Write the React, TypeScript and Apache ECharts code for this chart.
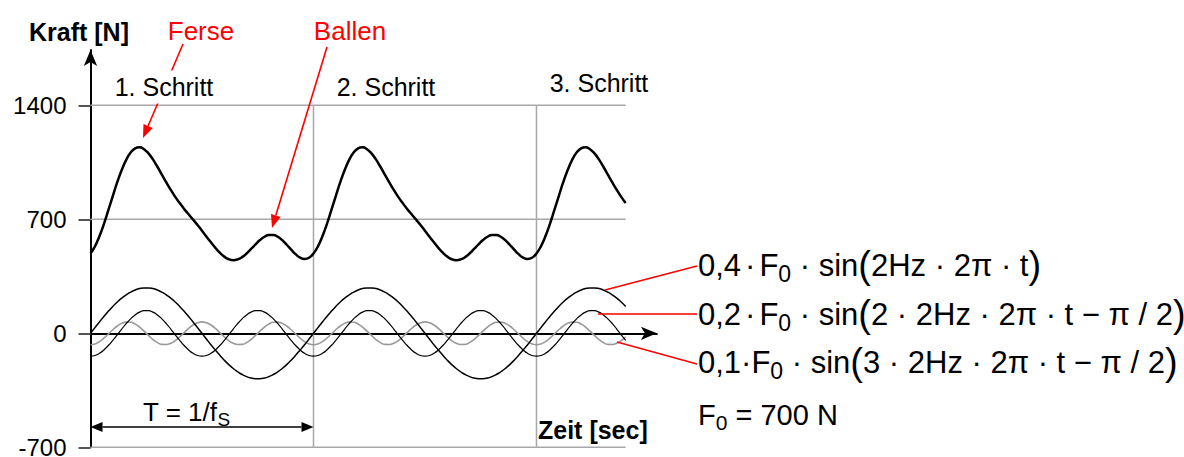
import React, { useEffect, useRef } from "react";
import * as echarts from "echarts";

// ---- data ----
const time = [
  0, 0.01, 0.02, 0.03, 0.04, 0.05, 0.06, 0.07, 0.08, 0.09, 0.1, 0.11, 0.12, 0.13, 0.14, 0.15, 0.16, 0.17, 0.18, 0.19,
  0.2, 0.21, 0.22, 0.23, 0.24, 0.25, 0.26, 0.27, 0.28, 0.29, 0.3, 0.31, 0.32, 0.33, 0.34, 0.35, 0.36, 0.37, 0.38, 0.39,
  0.4, 0.41, 0.42, 0.43, 0.44, 0.45, 0.46, 0.47, 0.48, 0.49, 0.5, 0.51, 0.52, 0.53, 0.54, 0.55, 0.56, 0.57, 0.58, 0.59,
  0.6, 0.61, 0.62, 0.63, 0.64, 0.65, 0.66, 0.67, 0.68, 0.69, 0.7, 0.71, 0.72, 0.73, 0.74, 0.75, 0.76, 0.77, 0.78, 0.79,
  0.8, 0.81, 0.82, 0.83, 0.84, 0.85, 0.86, 0.87, 0.88, 0.89, 0.9, 0.91, 0.92, 0.93, 0.94, 0.95, 0.96, 0.97, 0.98, 0.99,
  1.0, 1.01, 1.02, 1.03, 1.04, 1.05, 1.06, 1.07, 1.08, 1.09, 1.1, 1.11, 1.12, 1.13, 1.14, 1.15, 1.16, 1.17, 1.18, 1.19,
  1.2,
];
const totalForce = [
  490, 534, 596, 671, 756, 843, 928, 1003, 1065, 1110, 1136, 1143, 1131, 1105, 1068, 1023, 975, 927, 881, 838,
  800, 764, 731, 698, 665, 630, 594, 559, 525, 495, 471, 455, 449, 454, 468, 490, 518, 546, 573, 593,
  604, 604, 593, 572, 544, 514, 486, 465, 457, 464,
  490, 534, 596, 671, 756, 843, 928, 1003, 1065, 1110, 1136, 1143, 1131, 1105, 1068, 1023, 975, 927, 881, 838,
  800, 764, 731, 698, 665, 630, 594, 559, 525, 495, 471, 455, 449, 454, 468, 490, 518, 546, 573, 593,
  604, 604, 593, 572, 544, 514, 486, 465, 457, 464,
  490, 534, 596, 671, 756, 843, 928, 1003, 1065, 1110, 1136, 1143, 1131, 1105, 1068, 1023, 975, 927, 881, 838,
  800,
];
const harmonic1 = [
  0, 35, 70, 103, 135, 165, 192, 216, 236, 253, 266, 275, 279, 279, 275, 266, 253, 236, 216, 192,
  165, 135, 103, 70, 35, 0, -35, -70, -103, -135, -165, -192, -216, -236, -253, -266, -275, -279, -279, -275,
  -266, -253, -236, -216, -192, -165, -135, -103, -70, -35,
  0, 35, 70, 103, 135, 165, 192, 216, 236, 253, 266, 275, 279, 279, 275, 266, 253, 236, 216, 192,
  165, 135, 103, 70, 35, 0, -35, -70, -103, -135, -165, -192, -216, -236, -253, -266, -275, -279, -279, -275,
  -266, -253, -236, -216, -192, -165, -135, -103, -70, -35,
  0, 35, 70, 103, 135, 165, 192, 216, 236, 253, 266, 275, 279, 279, 275, 266, 253, 236, 216, 192,
  165,
];
const harmonic2 = [
  -140, -136, -123, -102, -75, -43, -9, 26, 60, 89, 113, 130, 139, 139, 130, 113, 89, 60, 26, -9,
  -43, -75, -102, -123, -136, -140, -136, -123, -102, -75, -43, -9, 26, 60, 89, 113, 130, 139, 139, 130,
  113, 89, 60, 26, -9, -43, -75, -102, -123, -136,
  -140, -136, -123, -102, -75, -43, -9, 26, 60, 89, 113, 130, 139, 139, 130, 113, 89, 60, 26, -9,
  -43, -75, -102, -123, -136, -140, -136, -123, -102, -75, -43, -9, 26, 60, 89, 113, 130, 139, 139, 130,
  113, 89, 60, 26, -9, -43, -75, -102, -123, -136,
  -140, -136, -123, -102, -75, -43, -9, 26, 60, 89, 113, 130, 139, 139, 130, 113, 89, 60, 26, -9,
  -43,
];
const harmonic3 = [
  -70, -65, -51, -30, -4, 22, 45, 61, 69, 68, 57, 38, 13, -13, -38, -57, -68, -69, -61, -45,
  -22, 4, 30, 51, 65, 70, 65, 51, 30, 4, -22, -45, -61, -69, -68, -57, -38, -13, 13, 38,
  57, 68, 69, 61, 45, 22, -4, -30, -51, -65,
  -70, -65, -51, -30, -4, 22, 45, 61, 69, 68, 57, 38, 13, -13, -38, -57, -68, -69, -61, -45,
  -22, 4, 30, 51, 65, 70, 65, 51, 30, 4, -22, -45, -61, -69, -68, -57, -38, -13, 13, 38,
  57, 68, 69, 61, 45, 22, -4, -30, -51, -65,
  -70, -65, -51, -30, -4, 22, 45, 61, 69, 68, 57, 38, 13, -13, -38, -57, -68, -69, -61, -45,
  -22,
];
const xTickValues = [0, 0.5, 1.0];
const xTickLabels = ["0,0", "0,5", "1,0"];
const yTickValues = [-700, 0, 700, 1400];
const yTickLabels = ["-700", "0", "700", "1400"];
const hGridValues = [1400, 700, -700];
const vGridValues = [0.5, 1.0];
const stepLabels = ["1. Schritt", "2. Schritt", "3. Schritt"];
const periodStart = 0;
const periodEnd = 0.5;

const FONT = '"Liberation Sans", Arial, Helvetica, sans-serif';
const RED = "#ff0000";

function arrowHead(x1: number, y1: number, x2: number, y2: number, color: string, headLen: number, headHalf: number) {
  const dx = x2 - x1;
  const dy = y2 - y1;
  const len = Math.sqrt(dx * dx + dy * dy);
  const ux = dx / len;
  const uy = dy / len;
  const bx = x2 - ux * headLen;
  const by = y2 - uy * headLen;
  const px = -uy * headHalf;
  const py = ux * headHalf;
  return {
    base: [bx, by],
    el: {
      type: "polygon",
      z: 100,
      shape: { points: [[x2, y2], [bx + px, by + py], [bx - px, by - py]] },
      style: { fill: color },
    },
  };
}

function arrow(x1: number, y1: number, x2: number, y2: number, color: string, headLen = 13, headHalf = 5) {
  const h = arrowHead(x1, y1, x2, y2, color, headLen, headHalf);
  return [
    { type: "line", z: 100, shape: { x1, y1, x2: h.base[0], y2: h.base[1] }, style: { stroke: color, lineWidth: 1.6 } },
    h.el,
  ];
}

function doubleArrow(x1: number, y1: number, x2: number, y2: number, color: string, headLen = 12, headHalf = 5) {
  const a = arrowHead(x2, y2, x1, y1, color, headLen, headHalf);
  const b = arrowHead(x1, y1, x2, y2, color, headLen, headHalf);
  return [
    {
      type: "line",
      z: 100,
      shape: { x1: a.base[0], y1: a.base[1], x2: b.base[0], y2: b.base[1] },
      style: { stroke: color, lineWidth: 1.6 },
    },
    a.el,
    b.el,
  ];
}

function text(x: number, y: number, t: string, opts: any = {}) {
  return {
    type: "text",
    x,
    y,
    z: 101,
    style: {
      text: t,
      fontFamily: FONT,
      fontSize: 25,
      fill: "#000",
      align: "left",
      verticalAlign: "middle",
      ...opts,
    },
  };
}

const formulaRich = {
  n: { fontSize: 31, fontFamily: FONT, fill: "#000" },
  d: { fontSize: 31, fontFamily: FONT, fill: "#000", padding: [0, 4, 0, 4] },
  s: { fontSize: 23, fontFamily: FONT, fill: "#000", padding: [18, 0, 0, 0] },
  p: { fontSize: 38, fontFamily: FONT, fill: "#000" },
};

export default function App() {
  const ref = useRef<HTMLDivElement>(null);
  useEffect(() => {
    if (!ref.current) return;
    const chart = echarts.init(ref.current, null, { renderer: "svg" });
    const xEnd = time[time.length - 1];

    const lineSeries = (name: string, values: number[], color: string, width: number, z: number) => ({
      name,
      type: "line",
      data: time.map((t, i) => [t, values[i]]),
      smooth: true,
      showSymbol: false,
      symbol: "none",
      z,
      lineStyle: { color, width },
      silent: true,
    });

    chart.setOption({
      animation: false,
      backgroundColor: "#fff",
      grid: { left: 90.5, top: 50, width: 566.4, height: 397.3, containLabel: false, outerBoundsMode: "none" },
      xAxis: {
        type: "value",
        min: 0,
        max: 1.27,
        interval: 0.5,
        axisLine: {
          onZero: true,
          lineStyle: { color: "#000", width: 2 },
          symbol: ["none", "arrow"],
          symbolSize: [10, 16],
        },
        axisTick: { show: false },
        splitLine: { show: false },
        axisLabel: {
          customValues: xTickValues,
          formatter: (v: number) => {
            const i = xTickValues.findIndex((x) => Math.abs(x - v) < 1e-6);
            return i >= 0 ? xTickLabels[i] : "";
          },
          fontFamily: FONT,
          fontWeight: "bold",
          fontSize: 24,
          color: "#000",
          margin: 25,
        },
      },
      yAxis: {
        type: "value",
        min: -700,
        max: 1740,
        interval: 700,
        axisLine: {
          show: true,
          lineStyle: { color: "#000", width: 2 },
          symbol: ["none", "arrow"],
          symbolSize: [10, 16],
        },
        axisTick: { show: true, customValues: yTickValues, length: 12, lineStyle: { color: "#555", width: 2 } },
        splitLine: { show: false },
        axisLabel: {
          customValues: yTickValues,
          formatter: (v: number) => {
            const i = yTickValues.findIndex((x) => Math.abs(x - v) < 1e-6);
            return i >= 0 ? yTickLabels[i] : "";
          },
          fontFamily: FONT,
          fontSize: 24,
          color: "#000",
          margin: 24,
        },
      },
      series: [
        lineSeries("0,1·F0", harmonic3, "#999999", 1.6, 4),
        lineSeries("0,2·F0", harmonic2, "#000", 1.2, 5),
        lineSeries("0,4·F0", harmonic1, "#000", 1.5, 6),
        lineSeries("Kraft", totalForce, "#000", 2.5, 7),
      ],
    });

    // grid lines and period arrow placed through the axes' scales
    const px = (x: number, y: number) => chart.convertToPixel({ gridIndex: 0 }, [x, y]) as number[];
    const yMin = yTickValues[0];
    const yMax = yTickValues[yTickValues.length - 1];
    const gridLines: any[] = [
      ...hGridValues.map((v) => {
        const a = px(0, v);
        const b = px(xEnd, v);
        return { type: "line", z: 1, shape: { x1: a[0], y1: a[1], x2: b[0], y2: b[1] }, style: { stroke: "#a8a8a8", lineWidth: 1.5 } };
      }),
      ...vGridValues.map((v) => {
        const a = px(v, yMin);
        const b = px(v, yMax);
        return { type: "line", z: 1, shape: { x1: a[0], y1: a[1], x2: b[0], y2: b[1] }, style: { stroke: "#a8a8a8", lineWidth: 1.5 } };
      }),
    ];
    const pa = px(periodStart, -575);
    const pb = px(periodEnd, -575);

    const graphic: any[] = [
      ...gridLines,
      ...doubleArrow(pa[0], pa[1], pb[0], pb[1], "#000"),
      text(29, 32, "Kraft [N]", { fontWeight: "bold", fontSize: 25 }),
      text(201, 31, "Ferse", { fontSize: 26, fill: RED, align: "center" }),
      text(350, 31, "Ballen", { fontSize: 26, fill: RED, align: "center" }),
      ...arrow(183, 44, 143, 138, RED),
      ...arrow(327, 47, 272, 228, RED),
      text(164, 87, stepLabels[0], { align: "center", backgroundColor: "#fff", padding: [4, 3] }),
      text(386, 87, stepLabels[1], { align: "center" }),
      text(599, 83, stepLabels[2], { align: "center" }),
      text(143, 412, "{n|T = 1/f}{s|S}", {
        rich: {
          n: { fontSize: 26, fontFamily: FONT, fill: "#000" },
          s: { fontSize: 19, fontFamily: FONT, fill: "#000", padding: [14, 0, 0, 0] },
        },
      }),
      text(538, 430, "Zeit [sec]", { fontWeight: "bold", fontSize: 25 }),
      // leader lines
      { type: "line", z: 100, shape: { x1: 605, y1: 290, x2: 697, y2: 266 }, style: { stroke: RED, lineWidth: 1.5 } },
      { type: "line", z: 100, shape: { x1: 598, y1: 314, x2: 697, y2: 314 }, style: { stroke: RED, lineWidth: 1.5 } },
      { type: "line", z: 100, shape: { x1: 617, y1: 342, x2: 697, y2: 364 }, style: { stroke: RED, lineWidth: 1.5 } },
      text(698, 265, "{n|0,4}{d|·}{n|F}{s|0}{n| · sin}{p|(}{n|2Hz · 2π · t}{p|)}", { rich: formulaRich }),
      text(698, 314, "{n|0,2}{d|·}{n|F}{s|0}{n| · sin}{p|(}{n|2 · 2Hz · 2π · t − π / 2}{p|)}", { rich: formulaRich }),
      text(698, 362, "{n|0,1·F}{s|0}{n| · sin}{p|(}{n|3 · 2Hz · 2π · t − π / 2}{p|)}", { rich: formulaRich }),
      text(698, 415, "{n|F}{s|0}{n| = 700 N}", {
        rich: {
          n: { fontSize: 29, fontFamily: FONT, fill: "#000" },
          s: { fontSize: 21, fontFamily: FONT, fill: "#000", padding: [14, 0, 0, 0] },
        },
      }),
    ];

    chart.setOption({ graphic: { elements: graphic } });
    return () => chart.dispose();
  }, []);

  return (
    <div
      ref={ref}
      style={{ position: "fixed", left: 0, top: 0, width: 1184, height: 457, background: "#fff" }}
    />
  );
}
